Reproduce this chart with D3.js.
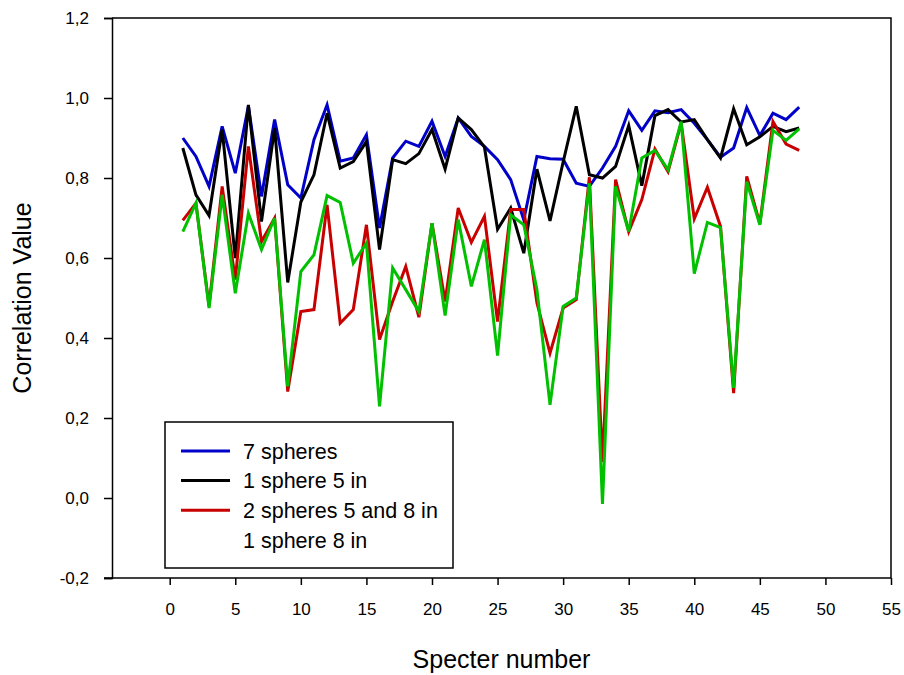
<!DOCTYPE html>
<html>
<head>
<meta charset="utf-8">
<script src="https://cdn.jsdelivr.net/npm/d3@7"></script>
<style>
  html, body { margin: 0; padding: 0; background: #fff; }
  svg { display: block; font-family: "Liberation Sans", Arial, sans-serif; }
</style>
</head>
<body>
<div id="chart"></div>
<script>
// Data
const specter = d3.range(1, 49);
const sevenSpheres = [0.900, 0.854, 0.779, 0.929, 0.812, 0.980, 0.754, 0.946, 0.783, 0.750,
  0.896, 0.983, 0.842, 0.850, 0.908, 0.675, 0.850, 0.892, 0.879, 0.942,
  0.854, 0.950, 0.904, 0.879, 0.846, 0.796, 0.695, 0.854, 0.848, 0.847,
  0.787, 0.779, 0.825, 0.879, 0.968, 0.919, 0.968, 0.963, 0.971, 0.937,
  0.896, 0.852, 0.875, 0.976, 0.906, 0.962, 0.946, 0.977];
const oneSphere5 = [0.875, 0.758, 0.706, 0.921, 0.600, 0.983, 0.691, 0.925, 0.539, 0.740,
  0.808, 0.962, 0.825, 0.841, 0.891, 0.621, 0.846, 0.836, 0.861, 0.921,
  0.822, 0.950, 0.921, 0.877, 0.672, 0.725, 0.612, 0.822, 0.693, 0.840,
  0.979, 0.808, 0.800, 0.829, 0.931, 0.781, 0.956, 0.971, 0.940, 0.946,
  0.896, 0.850, 0.973, 0.883, 0.903, 0.929, 0.916, 0.925];
const twoSpheres = [0.694, 0.737, 0.480, 0.779, 0.546, 0.879, 0.641, 0.700, 0.266, 0.466,
  0.471, 0.733, 0.437, 0.471, 0.683, 0.396, 0.491, 0.579, 0.452, 0.687,
  0.491, 0.725, 0.639, 0.704, 0.441, 0.721, 0.721, 0.488, 0.362, 0.475,
  0.496, 0.802, 0.090, 0.796, 0.666, 0.746, 0.872, 0.816, 0.937, 0.698,
  0.777, 0.679, 0.262, 0.804, 0.686, 0.941, 0.885, 0.869];
const oneSphere8 = [0.666, 0.737, 0.475, 0.758, 0.512, 0.712, 0.621, 0.700, 0.279, 0.566,
  0.608, 0.756, 0.739, 0.587, 0.637, 0.229, 0.575, 0.521, 0.466, 0.687,
  0.456, 0.696, 0.529, 0.646, 0.356, 0.708, 0.683, 0.521, 0.233, 0.479,
  0.500, 0.787, -0.015, 0.779, 0.666, 0.850, 0.869, 0.821, 0.941, 0.561,
  0.689, 0.676, 0.275, 0.791, 0.683, 0.919, 0.894, 0.923];
const seriesNames = ["7 spheres", "1 sphere 5 in", "2 spheres 5 and 8 in", "1 sphere 8 in"];
const xTicks = d3.range(0, 56, 5);
const yTicks = [-0.2, 0, 0.2, 0.4, 0.6, 0.8, 1.0, 1.2];

const WIDTH = 904, HEIGHT = 675;
const plot = { left: 112, right: 891, top: 18, bottom: 578 };

const series = [
  { name: seriesNames[0], values: sevenSpheres, color: "#0000c8" },
  { name: seriesNames[1], values: oneSphere5, color: "#000000" },
  { name: seriesNames[2], values: twoSpheres, color: "#c80000" },
  { name: seriesNames[3], values: oneSphere8, color: "#00c000", noLegendLine: true }
];

const x = d3.scaleLinear().domain([-4.4, 55]).range([plot.left, plot.right]);
const y = d3.scaleLinear().domain([-0.2, 1.2]).range([plot.bottom, plot.top]);

const svg = d3.select("#chart").append("svg")
  .attr("width", WIDTH).attr("height", HEIGHT)
  .attr("viewBox", `0 0 ${WIDTH} ${HEIGHT}`);

// frame (top + right)
svg.append("path")
  .attr("d", `M${plot.left},${plot.top}H${plot.right}V${plot.bottom}`)
  .attr("fill", "none").attr("stroke", "#000").attr("stroke-width", 1.5);

const fmt = (d) => d3.format(".1f")(d).replace(".", ",").replace("−", "-");

const yAxis = svg.append("g")
  .attr("transform", `translate(${plot.left},0)`)
  .call(d3.axisLeft(y).tickValues(yTicks).tickSize(8).tickPadding(15).tickFormat(fmt));

const xAxis = svg.append("g")
  .attr("transform", `translate(0,${plot.bottom})`)
  .call(d3.axisBottom(x).tickValues(xTicks).tickSize(7).tickPadding(18).tickSizeOuter(0));

[yAxis, xAxis].forEach((g) => {
  g.select(".domain").attr("stroke-width", 1.5);
  g.selectAll(".tick line").attr("stroke-width", 1.5);
  g.selectAll(".tick text").attr("font-size", 17).attr("fill", "#000")
    .attr("font-family", "Liberation Sans, Arial, sans-serif");
});
xAxis.select(".domain").attr("d", `M${plot.left - 8},0H${plot.right}`);

// axis titles
svg.append("text")
  .attr("transform", `translate(31,${(plot.top + plot.bottom) / 2}) rotate(-90)`)
  .attr("text-anchor", "middle")
  .attr("font-size", 25)
  .text("Correlation Value");

svg.append("text")
  .attr("x", (plot.left + plot.right) / 2)
  .attr("y", 668)
  .attr("text-anchor", "middle")
  .attr("font-size", 25)
  .text("Specter number");

// lines
const line = d3.line()
  .x((d, i) => x(specter[i]))
  .y((d) => y(d));

svg.selectAll(".series")
  .data(series)
  .join("path")
  .attr("class", "series")
  .attr("fill", "none")
  .attr("stroke", (d) => d.color)
  .attr("stroke-width", 3)
  .attr("stroke-linejoin", "miter")
  .attr("d", (d) => line(d.values));

// legend
const legend = svg.append("g").attr("transform", "translate(165,422)");
legend.append("rect")
  .attr("width", 288).attr("height", 146)
  .attr("fill", "#fff").attr("stroke", "#000").attr("stroke-width", 1.5);

const item = legend.selectAll(".item")
  .data(series)
  .join("g")
  .attr("class", "item")
  .attr("transform", (d, i) => `translate(0,${29 + i * 29.6})`);

item.filter((d) => !d.noLegendLine)
  .append("line")
  .attr("x1", 16).attr("x2", 65)
  .attr("stroke", (d) => d.color)
  .attr("stroke-width", 3);

item.append("text")
  .attr("x", 78)
  .attr("dy", "0.36em")
  .attr("font-size", 21.5)
  .text((d) => d.name);
</script>
</body>
</html>
